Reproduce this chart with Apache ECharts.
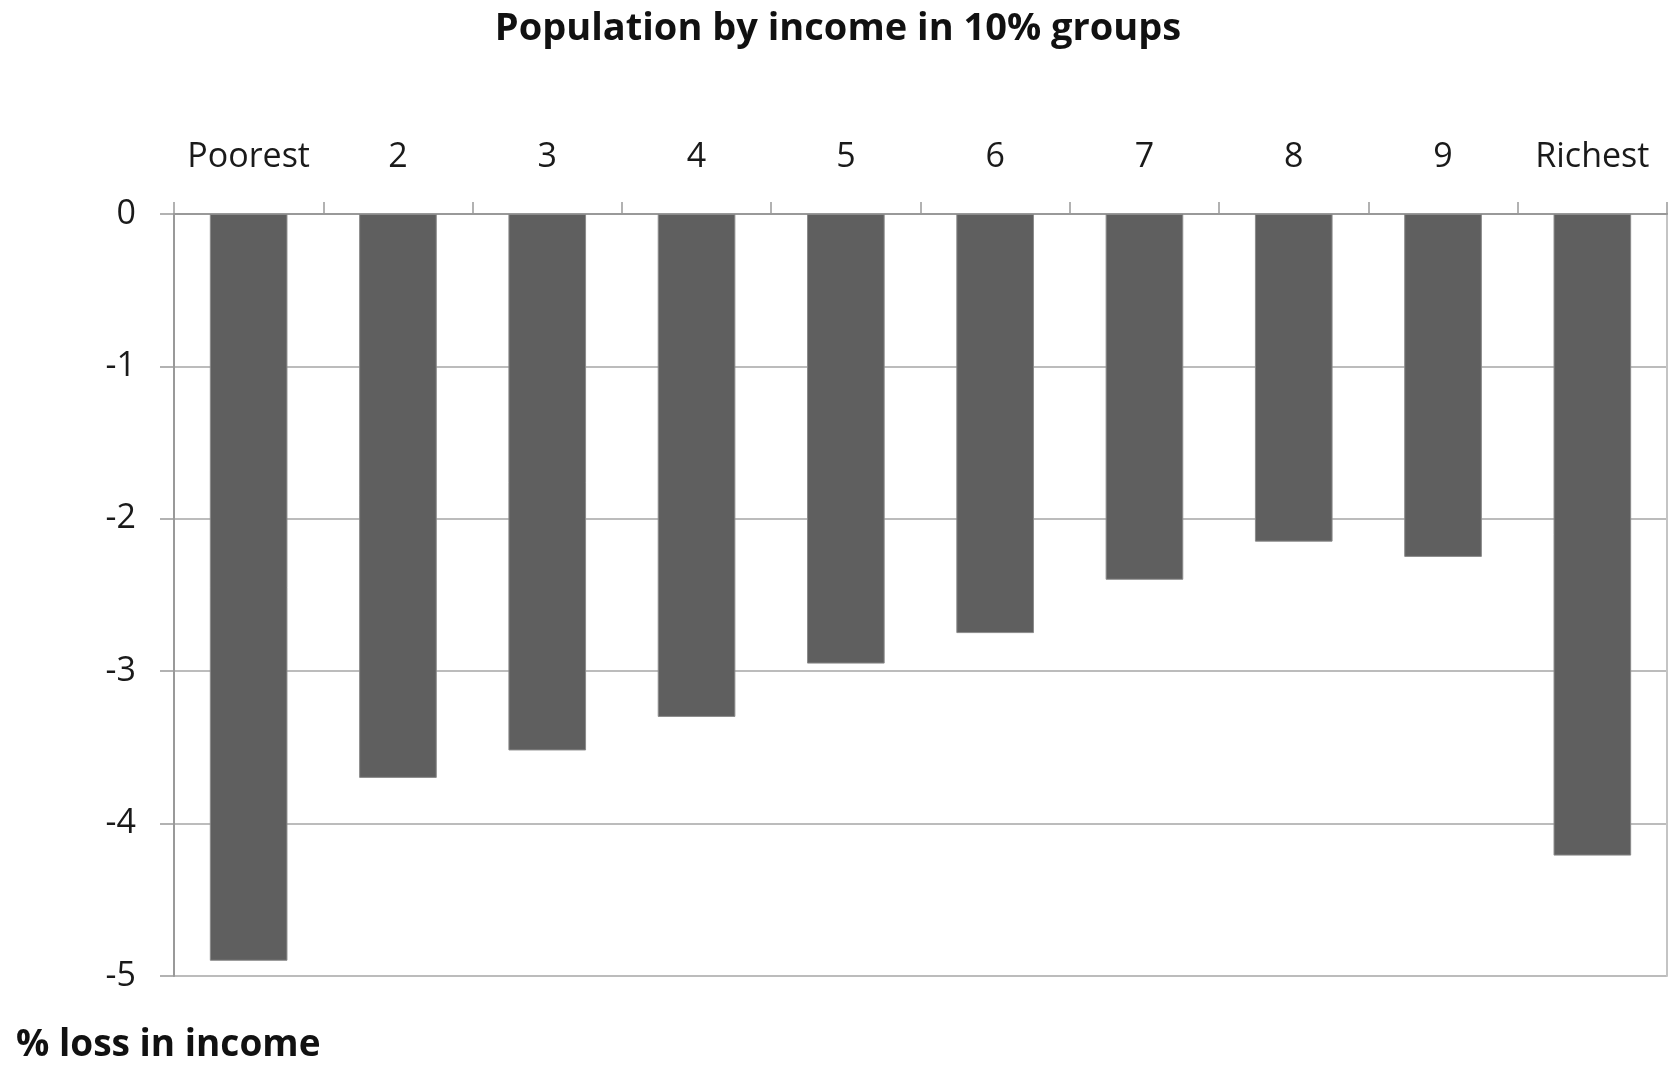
<!DOCTYPE html>
<html>
<head>
<meta charset="utf-8">
<script src="https://cdn.jsdelivr.net/npm/echarts@6/dist/echarts.min.js"></script>
<style>
html,body{margin:0;padding:0;background:#fff;}
#chart{width:1676px;height:1066px;}
</style>
</head>
<body>
<div id="chart"></div>
<script>
const categories = ['Poorest', '2', '3', '4', '5', '6', '7', '8', '9', 'Richest'];
const lossValues = [-4.90, -3.70, -3.52, -3.30, -2.95, -2.75, -2.40, -2.15, -2.25, -4.21];
const chartTitle = 'Population by income in 10% groups';
const axisTitle = '% loss in income';

const chart = echarts.init(document.getElementById('chart'));
const labelFont = '"Open Sans", "Noto Sans", sans-serif';
chart.setOption({
  backgroundColor: '#ffffff',
  animation: false,
  title: [
    {
      text: chartTitle,
      left: 'center',
      top: 5,
      textStyle: { fontFamily: labelFont, fontWeight: 'bold', fontSize: 38, color: '#111' }
    },
    {
      text: axisTitle,
      left: 11,
      top: 1022,
      textStyle: { fontFamily: labelFont, fontWeight: 'bold', fontSize: 37, color: '#111' }
    }
  ],
  grid: { left: 174, right: 9, top: 214, bottom: 90, containLabel: false },
  xAxis: {
    type: 'category',
    position: 'top',
    data: categories,
    axisLine: { show: true, lineStyle: { color: '#999', width: 2 } },
    axisTick: { show: true, length: 12, alignWithLabel: false, lineStyle: { color: '#999', width: 1.5 } },
    axisLabel: { margin: 40, fontFamily: labelFont, fontSize: 34, color: '#1a1a1a', interval: 0 },
    splitLine: { show: false }
  },
  yAxis: [
    {
      type: 'value',
      min: -5,
      max: 0,
      interval: 1,
      axisLine: { show: true, lineStyle: { color: '#999', width: 2 } },
      axisTick: { show: true, length: 14, lineStyle: { color: '#999', width: 1.5 } },
      axisLabel: { margin: 38, fontFamily: labelFont, fontSize: 34, color: '#1a1a1a' },
      splitLine: { show: true, lineStyle: { color: '#a6a6a6', width: 1.5 } }
    },
    {
      type: 'value',
      position: 'right',
      min: -5,
      max: 0,
      interval: 1,
      axisLine: { show: true, lineStyle: { color: '#c4c4c4', width: 2 } },
      axisTick: { show: false },
      axisLabel: { show: false },
      splitLine: { show: false }
    }
  ],
  series: [
    {
      type: 'bar',
      data: lossValues,
      barCategoryGap: '48%',
      itemStyle: { color: '#5f5f5f', borderColor: '#8a8a8a', borderWidth: 1 }
    }
  ]
});
</script>
</body>
</html>
